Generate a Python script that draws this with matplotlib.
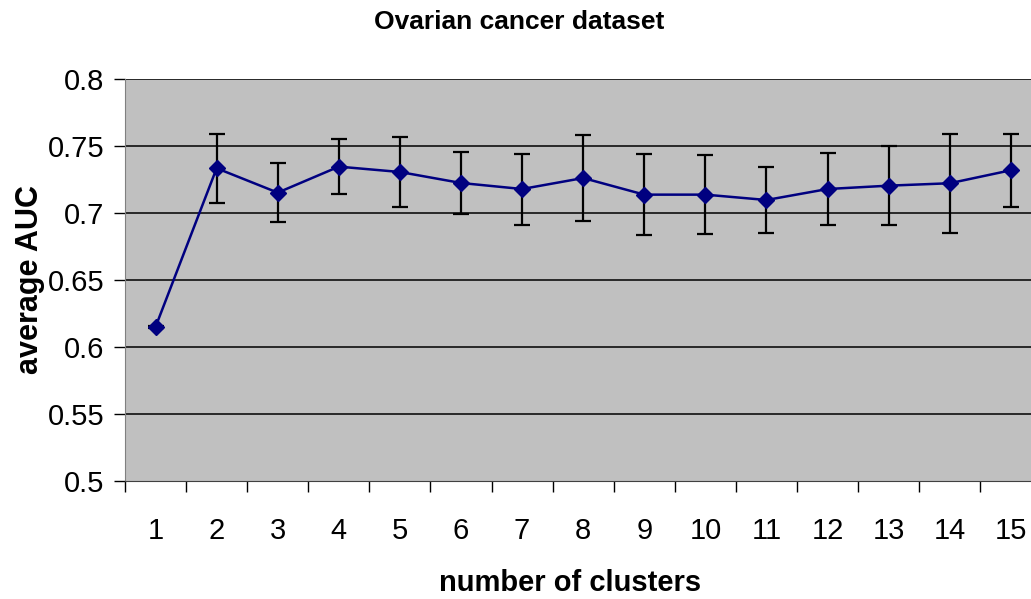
import matplotlib
matplotlib.use("Agg")
import matplotlib.pyplot as plt

plt.rcParams['font.family'] = ['Liberation Sans', 'DejaVu Sans']

# data
clusters = list(range(1, 16))
auc_mean = [0.615, 0.7334, 0.7152, 0.7346, 0.7306, 0.7224, 0.7179, 0.7261,
            0.7137, 0.7137, 0.7097, 0.7179, 0.7204, 0.7222, 0.7319]
auc_err = [0.001, 0.0257, 0.0222, 0.0207, 0.0263, 0.0229, 0.0265, 0.0320,
           0.0301, 0.0293, 0.0243, 0.0271, 0.0294, 0.0368, 0.0272]
yticks = [0.5, 0.55, 0.6, 0.65, 0.7, 0.75, 0.8]

fig = plt.figure(figsize=(10.31, 5.99), dpi=100)
ax = fig.add_axes([125/1031, 1 - 481/599, 1 - 125/1031, (481 - 79)/599])
ax.set_facecolor('#c0c0c0')

ax.errorbar(clusters, auc_mean, yerr=auc_err, fmt='none', ecolor='black',
            elinewidth=1.6, capsize=6, capthick=1.6, zorder=3)
ax.plot(clusters, auc_mean, color='#000080', lw=1.8, marker='D',
        markersize=8.5, zorder=4)

ax.set_ylim(0.5, 0.8)
ax.set_xlim(0.5, 15.33)
ax.set_yticks(yticks)
ax.set_yticklabels(['0.5', '0.55', '0.6', '0.65', '0.7', '0.75', '0.8'], fontsize=21)
for y in yticks[1:]:
    ax.axhline(y, color='black', lw=1.1, zorder=1)

ax.set_xticks(clusters)
ax.set_xticklabels([str(c) for c in clusters], fontsize=21)
ax.set_xticks([c + 0.5 for c in range(0, 15)], minor=True)
ax.tick_params(axis='x', which='major', length=0, pad=26)
ax.tick_params(axis='x', which='minor', length=8, width=1, color='black')
ax.tick_params(axis='y', length=8, width=1, pad=7)

ax.spines['top'].set_visible(False)
ax.spines['right'].set_visible(False)
ax.spines['left'].set_color('#808080')
ax.spines['bottom'].set_color('#404040')

fig.text(519/1031, 1 - 22/599, 'Ovarian cancer dataset', ha='center', va='center',
         fontsize=19, fontweight='bold')
fig.text(30/1031, 1 - 280/599, 'average AUC', ha='center', va='center',
         rotation=90, fontsize=22, fontweight='bold')
fig.text(570/1031, 1 - 583/599, 'number of clusters', ha='center', va='center',
         fontsize=21, fontweight='bold')

fig.savefig('out.png', dpi=100)
